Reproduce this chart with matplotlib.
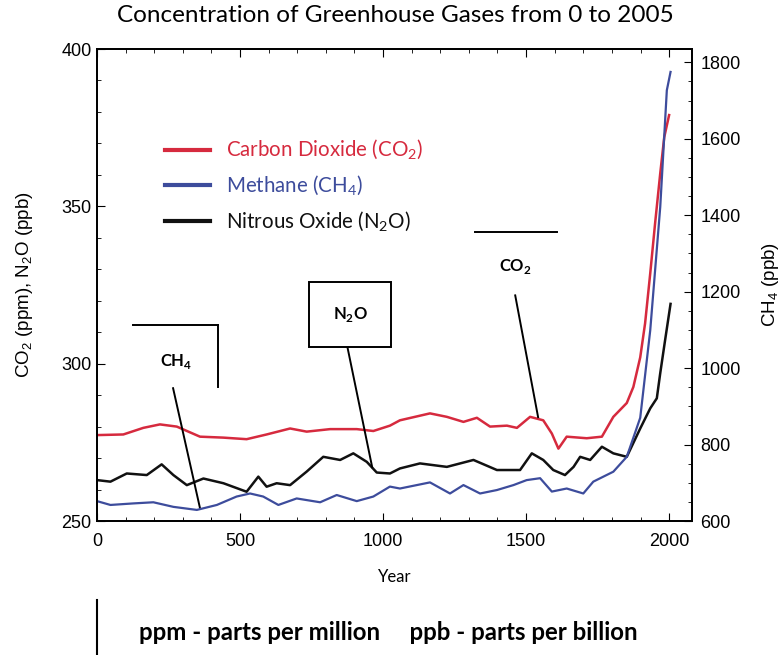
import numpy as np
import matplotlib
matplotlib.use('Agg')
import matplotlib.pyplot as plt
from matplotlib.ticker import MultipleLocator
from matplotlib.lines import Line2D

plt.rcParams['font.family'] = ['Liberation Sans', 'DejaVu Sans']
plt.rcParams['mathtext.fontset'] = 'custom'
plt.rcParams['mathtext.rm'] = 'Liberation Sans'

# values
co2_year = [0, 92, 162, 220, 279, 360, 441, 523, 593, 675, 733, 815, 908, 966, 1024, 1059, 1164, 1223, 1281,
            1328, 1374, 1433, 1468, 1514, 1560, 1590, 1613, 1642, 1712, 1765, 1805, 1852, 1875, 1899, 1916,
            1934, 1951, 1969, 1983, 2000]
co2 = [277.3, 277.5, 279.6, 280.7, 280.0, 276.8, 276.5, 276.0, 277.5, 279.4, 278.4, 279.2, 279.2, 278.6, 280.3,
       282.0, 284.2, 283.1, 281.5, 282.8, 280.0, 280.3, 279.6, 283.1, 282.0, 277.8, 273.0, 276.8, 276.3, 276.8,
       283.1, 287.5, 292.6, 302.0, 312.8, 328.7, 344.6, 360.5, 372.0, 379.0]

ch4_year = [0, 47, 127, 197, 267, 349, 419, 488, 535, 581, 634, 698, 780, 838, 908, 966, 1024, 1059, 1164, 1234,
            1281, 1339, 1398, 1456, 1502, 1549, 1590, 1642, 1700, 1735, 1805, 1852, 1899, 1934, 1969, 1992, 2005]
ch4 = [652, 642, 646, 649, 637, 629, 642, 664, 672, 664, 642, 659, 649, 668, 652, 664, 690, 685, 701, 672, 694,
       672, 681, 694, 707, 712, 677, 685, 672, 703, 729, 768, 870, 1099, 1422, 1727, 1775]

n2o_year = [0, 47, 104, 174, 226, 267, 314, 372, 442, 523, 564, 593, 628, 675, 733, 791, 850, 896, 943, 978, 1024,
            1059, 1129, 1223, 1316, 1398, 1479, 1520, 1560, 1595, 1636, 1666, 1689, 1724, 1765, 1805, 1852, 1899,
            1934, 1957, 1969, 1986, 2005]
n2o = [263.0, 262.5, 265.1, 264.6, 268.0, 264.6, 261.4, 263.5, 262.0, 259.3, 264.1, 260.9, 262.0, 261.4, 265.7,
       270.4, 269.4, 271.5, 268.8, 265.4, 265.1, 266.7, 268.3, 267.2, 269.4, 266.2, 266.2, 271.5, 269.4, 266.2,
       264.6, 267.2, 270.4, 269.4, 273.6, 271.5, 270.4, 279.4, 285.8, 289.0, 297.0, 307.5, 319.0]

labels = [r'Carbon Dioxide (CO$_\mathregular{2}$)', r'Methane (CH$_\mathregular{4}$)',
          r'Nitrous Oxide (N$_\mathregular{2}$O)']
red = '#d62a3e'
blue = '#3d4c9c'
black = '#111111'
title_font = ['Lato', 'DejaVu Sans']

fig = plt.figure(figsize=(7.83, 6.55), dpi=100)
ax = fig.add_axes([97/783, 1-521/655, 595/783, 472/655])
ax2 = ax.twinx()

ax.plot(co2_year, co2, color=red, lw=1.8)
ax.plot(n2o_year, n2o, color=black, lw=1.8)
ax2.plot(ch4_year, ch4, color=blue, lw=1.6)

ax.set_xlim(0, 2080)
ax.set_ylim(250, 400)
ax2.set_ylim(600, 1835)
ax.xaxis.set_major_locator(MultipleLocator(500))
ax.xaxis.set_minor_locator(MultipleLocator(100))
ax.yaxis.set_major_locator(MultipleLocator(50))
ax.yaxis.set_minor_locator(MultipleLocator(10))
ax2.yaxis.set_major_locator(MultipleLocator(200))
ax2.yaxis.set_minor_locator(MultipleLocator(50))

ax.tick_params(axis='x', which='both', direction='in', top=True, labelsize=13, pad=9)
ax.tick_params(axis='x', which='major', length=6)
ax.tick_params(axis='x', which='minor', length=3)
ax.tick_params(axis='y', which='both', direction='in', labelsize=13, pad=4)
ax.tick_params(axis='y', which='major', length=6)
ax.tick_params(axis='y', which='minor', length=3)
ax2.tick_params(axis='y', which='both', direction='in', labelsize=13, pad=6)
ax2.tick_params(axis='y', which='major', length=6)
ax2.tick_params(axis='y', which='minor', length=3)
for a in (ax, ax2):
    for s in a.spines.values():
        s.set_linewidth(1.3)

ax.set_xlabel('Year', fontsize=12, family=title_font, labelpad=13)
ax.set_ylabel(r'CO$_\mathregular{2}$ (ppm), N$_\mathregular{2}$O (ppb)', fontsize=13.5, labelpad=19)
ax2.set_ylabel(r'CH$_\mathregular{4}$ (ppb)', fontsize=13.5, labelpad=14)

fig.text(395/783, 1-16/655, 'Concentration of Greenhouse Gases from 0 to 2005',
         ha='center', va='center', fontsize=17.5, family=title_font)

handles = [Line2D([], [], color=red, lw=3), Line2D([], [], color=blue, lw=3), Line2D([], [], color=black, lw=3)]
leg = ax.legend(handles, labels, loc='upper left', bbox_to_anchor=(0.083, 0.85), frameon=False,
                handlelength=2.2, handletextpad=0.75, labelspacing=0.55,
                labelcolor=[red, blue, black], prop={'family': title_font, 'size': 14.8})

# annotations
ann = dict(color='black', lw=1.4)
ax.plot([126, 423], [312.2, 312.2], **ann)
ax.plot([423, 423], [312.2, 292.5], **ann)
ax.plot([266, 360], [292.2, 254.1], **ann)
ax.text(276, 300.8, r'CH$_\mathregular{4}$', ha='center', va='center', fontsize=12, fontweight='bold',
        family=title_font)

ax.plot([874, 962], [305.9, 267.1], **ann)
ax.text(885, 315.6, r'N$_\mathregular{2}$O', ha='center', va='center', fontsize=12, fontweight='bold',
        family=title_font, bbox=dict(boxstyle='square,pad=1.4', fc='white', ec='black', lw=1.4))

ax.plot([1322, 1608], [341.7, 341.7], **ann)
ax.plot([1462, 1542], [321.7, 283.0], **ann)
ax.text(1462, 331, r'CO$_\mathregular{2}$', ha='center', va='center', fontsize=12, fontweight='bold',
        family=title_font)

fig.text(388/783, 1-632/655, 'ppm - parts per million     ppb - parts per billion',
         ha='center', va='center', fontsize=17.3, fontweight='bold', family=title_font)
fig.add_artist(Line2D([97/783, 97/783], [0, 1-600/655], color='black', lw=1.5))

fig.savefig('out.png', dpi=100)
